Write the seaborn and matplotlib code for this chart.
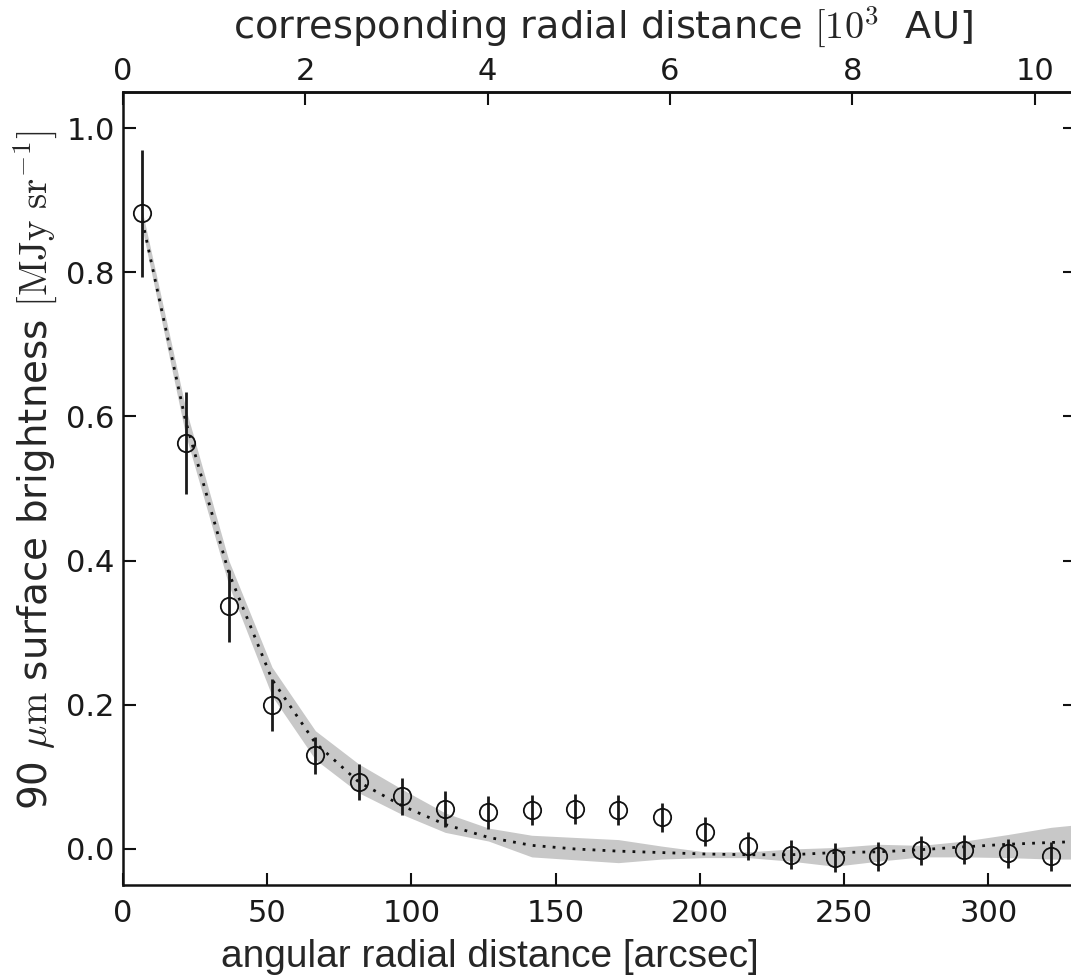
import matplotlib
matplotlib.use('Agg')
import matplotlib.pyplot as plt
import seaborn as sns

# radial profile
radius = [6.7, 21.7, 36.7, 51.7, 66.7, 81.7, 96.7, 111.7, 126.7, 141.7, 156.7,
          171.7, 186.7, 201.7, 216.7, 231.7, 246.7, 261.7, 276.7, 291.7, 306.7, 321.7]
brightness = [0.882, 0.563, 0.337, 0.200, 0.130, 0.093, 0.073, 0.056, 0.051, 0.054, 0.055,
              0.054, 0.044, 0.024, 0.004, -0.008, -0.012, -0.010, -0.002, -0.001, -0.006, -0.010]
brightness_err = [0.088, 0.071, 0.050, 0.036, 0.026, 0.025, 0.026, 0.025, 0.023, 0.021, 0.021,
                  0.021, 0.020, 0.020, 0.020, 0.020, 0.020, 0.020, 0.020, 0.020, 0.020, 0.020]

# model profile and its range (grey band)
model_radius = radius + [336.7]
model = [0.872, 0.594, 0.383, 0.235, 0.147, 0.093, 0.060, 0.034, 0.016, 0.005, 0.000,
         -0.003, -0.005, -0.007, -0.008, -0.008, -0.005, -0.004, -0.001, 0.003, 0.0065, 0.009, 0.011]
model_upper = [0.885, 0.612, 0.400, 0.252, 0.164, 0.118, 0.083, 0.050, 0.029, 0.019, 0.016,
               0.013, 0.004, -0.004, -0.004, 0.000, 0.002, 0.0065, 0.005, 0.011, 0.020, 0.030, 0.036]
model_lower = [0.860, 0.575, 0.366, 0.212, 0.124, 0.078, 0.048, 0.023, 0.011, -0.011, -0.015,
               -0.019, -0.014, -0.012, -0.012, -0.017, -0.024, -0.017, -0.011, -0.011, -0.012, -0.014, -0.014]

x_ticks = [0, 50, 100, 150, 200, 250, 300]
y_ticks = [0.0, 0.2, 0.4, 0.6, 0.8, 1.0]
au_ticks = [0, 2, 4, 6, 8, 10]
ARCSEC_PER_KAU = 31.6

sns.set_theme(style='ticks')
plt.rcParams.update({
    'font.family': ['DejaVu Sans'],
    'mathtext.fontset': 'cm',
    'axes.linewidth': 1.8,
    'axes.edgecolor': '#111111',
    'xtick.color': '#111111',
    'ytick.color': '#111111',
    'xtick.labelcolor': '#1a1a1a',
    'ytick.labelcolor': '#1a1a1a',
})

fig = plt.figure(figsize=(10.71, 9.75), dpi=100)
ax = fig.add_axes([0.1148, 0.0923, 0.8889, 0.8133])

ax.fill_between(model_radius, model_lower, model_upper, color='#c8c8c8', lw=0, zorder=1)
sns.lineplot(x=model_radius, y=model, ax=ax, color='#111111', lw=2.0,
             linestyle=(0, (1, 2.6)), zorder=2)
ax.errorbar(radius, brightness, yerr=brightness_err, fmt='o', mfc='none', mec='#111111',
            ms=12.5, mew=1.3, ecolor='#1a1a1a', elinewidth=2.0, capsize=0, zorder=3)

ax.set_xlim(0, 330)
ax.set_ylim(-0.05, 1.05)
ax.set_xticks(x_ticks)
ax.set_yticks(y_ticks)
ax.set_yticklabels([f'{v:.1f}' for v in y_ticks])
ax.tick_params(axis='x', which='both', direction='in', top=False, bottom=True,
               length=9, width=1.5, labelsize=22, pad=10)
ax.tick_params(axis='y', which='both', direction='in', left=True, right=True,
               length=9, width=1.5, labelsize=22, pad=6)
ax.minorticks_off()

ax.set_xlabel('angular radial distance [arcsec]', family='Liberation Sans', fontsize=28, va='center')
ax.xaxis.set_label_coords(0.385, -0.091)
ax.set_ylabel(r'90 $\mu\mathrm{m}$ surface brightness $[\mathrm{MJy\ sr^{-1}}]$', fontsize=28, va='center')
ax.yaxis.set_label_coords(-0.092, 0.523)

secax = ax.secondary_xaxis('top', functions=(lambda x: x / ARCSEC_PER_KAU,
                                             lambda x: x * ARCSEC_PER_KAU))
secax.set_xticks(au_ticks)
secax.tick_params(direction='in', length=9, width=1.5, labelsize=22, pad=4)
secax.set_xlabel(r'corresponding radial distance $[10^3$  AU]', fontsize=27.5, va='center')
secax.xaxis.set_label_coords(0.504, 1.081, transform=ax.transAxes)

fig.savefig('out.png', dpi=100)
